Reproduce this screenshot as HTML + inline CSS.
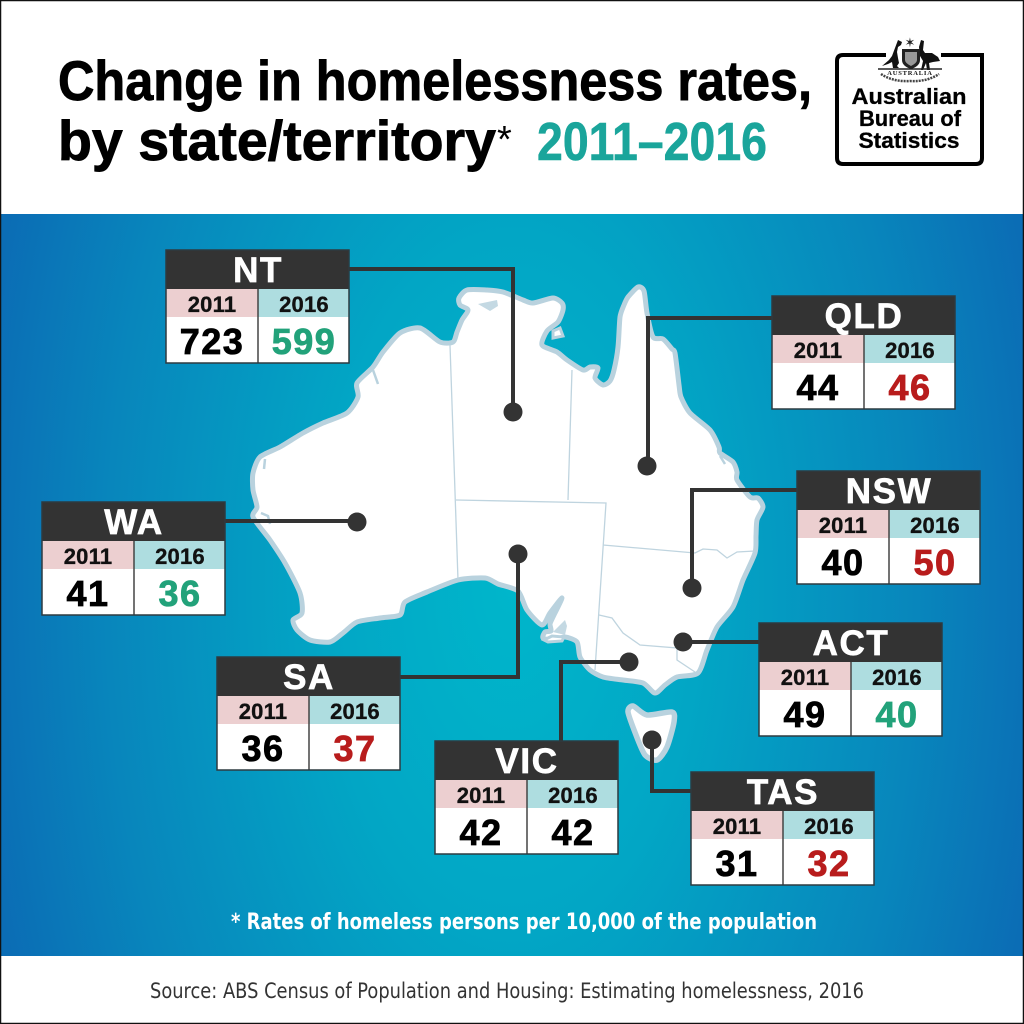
<!DOCTYPE html>
<html lang="en">
<head>
<meta charset="utf-8">
<title>Change in homelessness rates, by state/territory 2011–2016</title>
<style>
html,body{margin:0;padding:0;background:#fff}
svg{display:block;font-family:"Liberation Sans",sans-serif}
.hdr{font-size:35px;font-weight:700;fill:#fff;stroke:#fff;stroke-width:.7px;text-anchor:middle;letter-spacing:1.6px}
.yr{font-size:22px;font-weight:700;fill:#111;stroke:#111;stroke-width:.35px;text-anchor:middle;letter-spacing:.2px}
.val{font-size:36px;font-weight:700;fill:#000;stroke:#000;stroke-width:.8px;text-anchor:middle;letter-spacing:1.5px}
.val.up{fill:#b81c1c;stroke:#b81c1c}.val.down{fill:#22a27a;stroke:#22a27a}
.ln{fill:none;stroke:#333;stroke-width:4}
.dot{fill:#333}
.cell-b{fill:#fff}.pink{fill:#eccfd0}.teal{fill:#aedde0}.dark{fill:#333}
.frame{fill:none;stroke:#2e3a40;stroke-width:1.5}
.div{stroke:#444;stroke-width:1.5}
.logo{font-size:22.5px;font-weight:700;fill:#000;stroke:#000;stroke-width:.3px;text-anchor:middle}
.ttl{stroke:#000;stroke-width:.9px}
</style>
</head>
<body>
<svg width="1024" height="1024" viewBox="0 0 1024 1024" xmlns="http://www.w3.org/2000/svg">
<defs>
<radialGradient id="sea" gradientUnits="userSpaceOnUse" cx="0" cy="0" r="1" gradientTransform="translate(512 585) scale(540 1000)">
<stop offset="0" stop-color="#00b6cb"/><stop offset=".35" stop-color="#02a6c5"/><stop offset=".75" stop-color="#0886bc"/><stop offset="1" stop-color="#0b6db5"/>
</radialGradient>
</defs>

<rect width="1024" height="1024" fill="#fff"/>
<rect y="214" width="1024" height="742" fill="url(#sea)"/>

<text class="ttl" x="58" y="100" font-size="56" font-weight="700" fill="#000" textLength="754" lengthAdjust="spacingAndGlyphs">Change in homelessness rates,</text>
<text class="ttl" x="58" y="160" font-size="56" font-weight="700" fill="#000" textLength="438" lengthAdjust="spacingAndGlyphs">by state/territory</text>
<text x="497" y="152" font-size="38" fill="#000">*</text>
<text x="537" y="160" font-size="54" font-weight="700" fill="#1aa59b" stroke="#1aa59b" stroke-width=".6" textLength="230" lengthAdjust="spacingAndGlyphs">2011–2016</text>

<g>
<path d="M886 55H843Q837 55 837 61V158Q837 164 843 164H976Q982 164 982 158V55H941" fill="none" stroke="#000" stroke-width="4"/>
<g>
<path d="M898 40l4 2-1 3-3 2-1 5 1 6 1 5-2 3 2 2h-6l-1-6-4 2-6 2 7-6 3-4 3-8z" fill="#111"/>
<path d="M921 40l3 1-1 9 2 3 7 0 6 4 2 4-7 1-4 1 1 7h-3l-1-7-3 7h-2l2-9-3-5-1-9z" fill="#111"/>
<path d="M902 49h18v11q0 6-9 9q-9-3-9-9z" fill="#222"/>
<path d="M905 52h12v8q0 3-6 6q-6-3-6-6z" fill="#999"/>
<text x="910" y="47" font-size="13" text-anchor="middle" fill="#222">✶</text>
<path d="M878 69H942" stroke="#222" stroke-width="1.500"/>
<text x="910" y="75" font-size="6.500" font-family="Liberation Serif,serif" font-weight="700" text-anchor="middle" fill="#111" letter-spacing=".8">AUSTRALIA</text>
<path d="M881 74q12 8 29 7q17 1 29-7" fill="none" stroke="#444" stroke-width="2.500" stroke-dasharray="2 1"/>
</g>
<text class="logo" x="909" y="104" textLength="115" lengthAdjust="spacingAndGlyphs">Australian</text>
<text class="logo" x="910" y="126" textLength="102" lengthAdjust="spacingAndGlyphs">Bureau of</text>
<text class="logo" x="909" y="148" textLength="101" lengthAdjust="spacingAndGlyphs">Statistics</text>
</g>

<g>
<path id="mainland" fill="#fff" stroke="#b9d2de" stroke-width="5" stroke-linejoin="round" data-pts="453,342 457,332 462,320 468,310 460,305 459,298 467,290 487,290 503,292 523,300 533,303 553,298 562,303 563,310 558,322 547,331 542,345 557,352 567,360 583,370 590,367 598,368 595,378 603,385 610,381 614,370 618,347 620,317 624,305 628,297 638,287 644,291 647,313 653,337 663,339 672,349 675,353 679,385 681,397 690,413 710,430 719,447 720,453 733,462 737,472 737,480 750,497 758,498 763,507 757,520 756,536 755,553 743,580 733,607 717,627 707,650 698,673 677,677 665,685 655,693 643,683 623,680 603,677 590,670 580,657 577,642 565,637 553,640 543,638 545,632 551,631 550,624 553,617 562,598 550,613 542,625 527,610 518,591 498,584 485,578 458,580 427,592 405,602 400,615 380,618 357,622 343,633 330,642 310,640 297,630 293,620 302,613 300,593 285,563 270,540 253,517 257,507 253,490 253,473 260,457 280,447 303,433 323,423 347,413 358,397 357,383 373,367 383,352 400,333 420,328 440,342"></path>
<path fill="#c4d9e3" d="M553 632L565 620L567 626L565 635Z"/>
<path fill="#fff" stroke="#b9d2de" stroke-width="3" d="M544 640L552 636L564 637L562 641L548 642Z"/>
<path fill="#c4d9e3" d="M478 304L497 300L498 306L490 311Z"/>
<path fill="#fff" stroke="#b9d2de" stroke-width="3" d="M553 331L560 328L563 336L553 338Z"/>
<g fill="none" stroke="#b9d2de" stroke-width="2.500">
<path d="M373 370L378 384"/>
<path d="M261 513L268 516L270 524"/>
<path d="M265 459L264 469"/>
<path d="M720 456L725 464"/>
</g>
<path id="tasmania" fill="#fff" stroke="#b9d2de" stroke-width="5.500" stroke-linejoin="round" data-pts="628,712 633,706 647,715 672,712 674,722 667,747 657,760 645,755 636,735"></path>
<g fill="none" stroke="#bfd4df" stroke-width="1.300">
<path d="M450 345L458 580"/>
<path d="M456 500L606 503L595 670"/>
<path d="M572 370L568 500"/>
<path d="M603 545L695 553L703 549L717 550L727 558L737 552L755 551"/>
<path d="M599 615L612 618L623 633L640 645L677 648L677 660L695 672"/>
</g>
</g>

<g>
<path class="ln" d="M349 269H513V412"/>
<circle class="dot" cx="513" cy="412" r="9.500"/>
<path class="ln" d="M772 318H648V466"/>
<circle class="dot" cx="647" cy="466" r="9.500"/>
<path class="ln" d="M797 490H692V588"/>
<circle class="dot" cx="692" cy="588" r="9.500"/>
<path class="ln" d="M759 642H683"/>
<circle class="dot" cx="683" cy="642" r="9.500"/>
<path class="ln" d="M561 741V662H629"/>
<circle class="dot" cx="629" cy="662" r="9.500"/>
<path class="ln" d="M400 677H518V554"/>
<circle class="dot" cx="518" cy="554" r="9.500"/>
<path class="ln" d="M225 521H357"/>
<circle class="dot" cx="357" cy="522" r="9.500"/>
<path class="ln" d="M691 791H652V740"/>
<circle class="dot" cx="652" cy="740" r="9.500"/>
</g>

<g transform="translate(166 250)">
<rect class="dark" width="183" height="39"/><rect class="pink" y="39" width="92" height="28"/><rect class="teal" x="92" y="39" width="91" height="28"/><rect class="cell-b" y="67" width="183" height="46"/><path class="div" d="M92 39V113"/><rect class="frame" width="183" height="113"/>
<text class="hdr" x="92" y="32">NT</text>
<text class="yr" x="46" y="62">2011</text><text class="yr" x="138" y="62">2016</text>
<text class="val" x="46" y="104">723</text><text class="val down" x="138" y="104">599</text>
</g>
<g transform="translate(772 296)">
<rect class="dark" width="183" height="39"/><rect class="pink" y="39" width="92" height="28"/><rect class="teal" x="92" y="39" width="91" height="28"/><rect class="cell-b" y="67" width="183" height="46"/><path class="div" d="M92 39V113"/><rect class="frame" width="183" height="113"/>
<text class="hdr" x="92" y="32">QLD</text>
<text class="yr" x="46" y="62">2011</text><text class="yr" x="138" y="62">2016</text>
<text class="val" x="46" y="104">44</text><text class="val up" x="138" y="104">46</text>
</g>
<g transform="translate(797 471)">
<rect class="dark" width="183" height="39"/><rect class="pink" y="39" width="92" height="28"/><rect class="teal" x="92" y="39" width="91" height="28"/><rect class="cell-b" y="67" width="183" height="46"/><path class="div" d="M92 39V113"/><rect class="frame" width="183" height="113"/>
<text class="hdr" x="92" y="32">NSW</text>
<text class="yr" x="46" y="62">2011</text><text class="yr" x="138" y="62">2016</text>
<text class="val" x="46" y="104">40</text><text class="val up" x="138" y="104">50</text>
</g>
<g transform="translate(759 623)">
<rect class="dark" width="183" height="39"/><rect class="pink" y="39" width="92" height="28"/><rect class="teal" x="92" y="39" width="91" height="28"/><rect class="cell-b" y="67" width="183" height="46"/><path class="div" d="M92 39V113"/><rect class="frame" width="183" height="113"/>
<text class="hdr" x="92" y="32">ACT</text>
<text class="yr" x="46" y="62">2011</text><text class="yr" x="138" y="62">2016</text>
<text class="val" x="46" y="104">49</text><text class="val down" x="138" y="104">40</text>
</g>
<g transform="translate(691 772)">
<rect class="dark" width="183" height="39"/><rect class="pink" y="39" width="92" height="28"/><rect class="teal" x="92" y="39" width="91" height="28"/><rect class="cell-b" y="67" width="183" height="46"/><path class="div" d="M92 39V113"/><rect class="frame" width="183" height="113"/>
<text class="hdr" x="92" y="32">TAS</text>
<text class="yr" x="46" y="62">2011</text><text class="yr" x="138" y="62">2016</text>
<text class="val" x="46" y="104">31</text><text class="val up" x="138" y="104">32</text>
</g>
<g transform="translate(435 741)">
<rect class="dark" width="183" height="39"/><rect class="pink" y="39" width="92" height="28"/><rect class="teal" x="92" y="39" width="91" height="28"/><rect class="cell-b" y="67" width="183" height="46"/><path class="div" d="M92 39V113"/><rect class="frame" width="183" height="113"/>
<text class="hdr" x="92" y="32">VIC</text>
<text class="yr" x="46" y="62">2011</text><text class="yr" x="138" y="62">2016</text>
<text class="val" x="46" y="104">42</text><text class="val" x="138" y="104">42</text>
</g>
<g transform="translate(217 657)">
<rect class="dark" width="183" height="39"/><rect class="pink" y="39" width="92" height="28"/><rect class="teal" x="92" y="39" width="91" height="28"/><rect class="cell-b" y="67" width="183" height="46"/><path class="div" d="M92 39V113"/><rect class="frame" width="183" height="113"/>
<text class="hdr" x="92" y="32">SA</text>
<text class="yr" x="46" y="62">2011</text><text class="yr" x="138" y="62">2016</text>
<text class="val" x="46" y="104">36</text><text class="val up" x="138" y="104">37</text>
</g>
<g transform="translate(42 502)">
<rect class="dark" width="183" height="39"/><rect class="pink" y="39" width="92" height="28"/><rect class="teal" x="92" y="39" width="91" height="28"/><rect class="cell-b" y="67" width="183" height="46"/><path class="div" d="M92 39V113"/><rect class="frame" width="183" height="113"/>
<text class="hdr" x="92" y="32">WA</text>
<text class="yr" x="46" y="62">2011</text><text class="yr" x="138" y="62">2016</text>
<text class="val" x="46" y="104">41</text><text class="val down" x="138" y="104">36</text>
</g>

<text x="231" y="929" font-size="22" font-family="DejaVu Sans,sans-serif" font-weight="700" fill="#fff" textLength="586" lengthAdjust="spacingAndGlyphs">* Rates of homeless persons per 10,000 of the population</text>
<text x="150" y="998" font-size="21" font-family="DejaVu Sans,sans-serif" fill="#333" textLength="714" lengthAdjust="spacingAndGlyphs">Source: ABS Census of Population and Housing: Estimating homelessness, 2016</text>

<rect x=".5" y=".5" width="1023" height="1023" fill="none" stroke="#111" stroke-width="1.500"/>
</svg>
<script>
// Smooth the hand-traced coastlines with a closed Catmull-Rom spline.
function smooth(id){
  var el=document.getElementById(id);
  var p=el.getAttribute('data-pts').split(' ').map(function(s){return s.split(',').map(Number);});
  var n=p.length,d='M'+p[0][0]+' '+p[0][1];
  for(var i=0;i<n;i++){
    var a=p[(i-1+n)%n],b=p[i],c=p[(i+1)%n],e=p[(i+2)%n];
    var k=8;
    d+='C'+(b[0]+(c[0]-a[0])/k).toFixed(1)+' '+(b[1]+(c[1]-a[1])/k).toFixed(1)+' '+(c[0]-(e[0]-b[0])/k).toFixed(1)+' '+(c[1]-(e[1]-b[1])/k).toFixed(1)+' '+c[0]+' '+c[1];
  }
  el.setAttribute('d',d+'Z');
}
smooth('mainland');
smooth('tasmania');
</script>
</body>
</html>
